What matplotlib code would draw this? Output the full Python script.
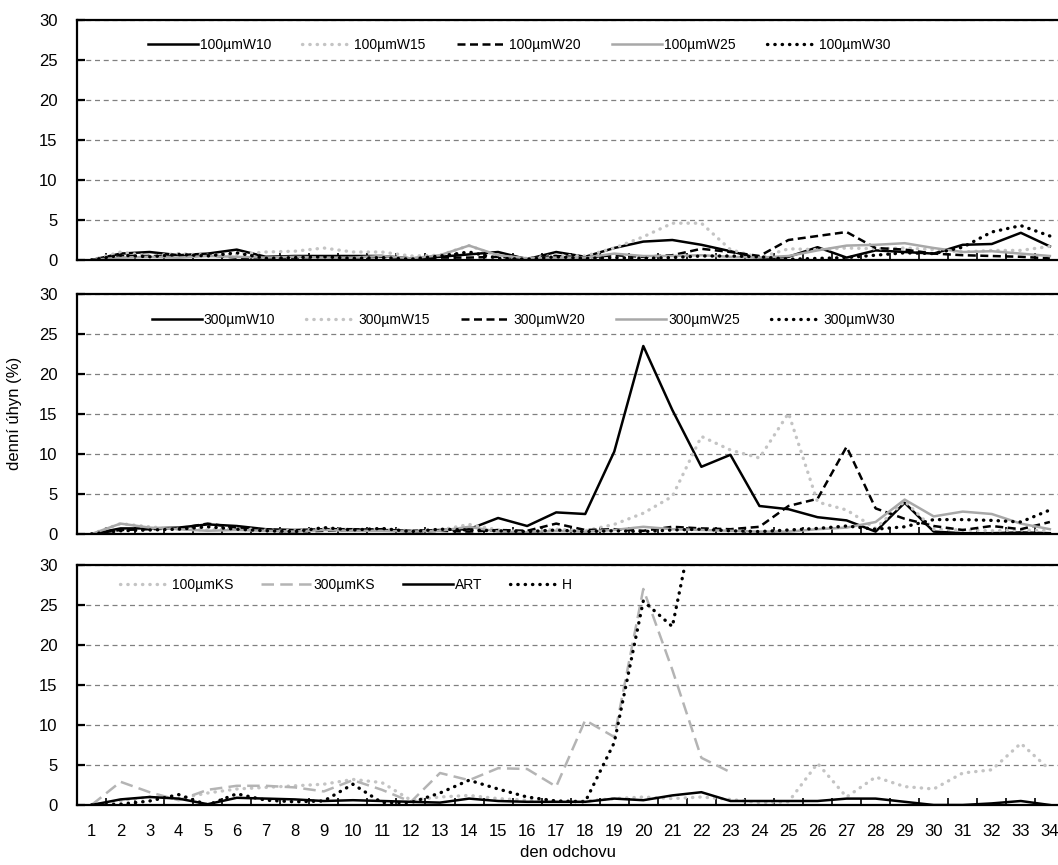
import numpy as np
import matplotlib
matplotlib.use('Agg')
import matplotlib.pyplot as plt
from matplotlib.ticker import MultipleLocator

plt.rcParams['font.family'] = ['Liberation Sans', 'DejaVu Sans']

days = list(range(1, 35))
nan = np.nan

# 100 um
w10_100 = [0, 0.8, 1.0, 0.6, 0.8, 1.3, 0.4, 0.5, 0.5, 0.5, 0.5, 0.2, 0.4, 0.7, 1.0, 0.1, 1.0, 0.4, 1.5, 2.3, 2.5, 1.9, 1.1, 0.2, 0.4, 1.6, 0.3, 1.2, 1.0, 0.8, 1.9, 2.0, 3.4, 1.7]
w15_100 = [0, 1.0, 0.5, 0.8, 0.6, 0.7, 1.0, 1.1, 1.5, 1.0, 1.0, 0.5, 0.6, 1.8, 0.5, 0.2, 0.6, 0.5, 1.5, 2.9, 4.6, 4.6, 1.3, 0.3, 1.4, 1.3, 1.5, 1.4, 1.5, 1.3, 1.0, 1.2, 1.2, 1.7]
w20_100 = [0, 0.5, 0.5, 0.4, 0.6, 0.3, 0.2, 0.3, 0.4, 0.3, 0.4, 0.2, 0.3, 0.3, 0.4, 0.2, 0.5, 0.3, 0.6, 0.4, 0.6, 1.4, 1.0, 0.5, 2.5, 3.0, 3.5, 1.5, 1.3, 0.8, 0.6, 0.5, 0.4, 0.2]
w25_100 = [0, 0.3, 0.4, 0.3, 0.5, 0.4, 0.3, 0.4, 0.3, 0.3, 0.5, 0.2, 0.6, 1.8, 0.6, 0.2, 0.3, 0.3, 0.8, 0.5, 0.5, 0.6, 0.4, 0.3, 0.5, 1.2, 1.8, 1.9, 2.1, 1.5, 1.0, 1.1, 0.8, 0.5]
w30_100 = [0, 0.6, 0.4, 0.7, 0.5, 0.9, 0.2, 0.3, 0.4, 0.2, 0.3, 0.1, 0.5, 1.0, 0.2, 0.1, 0.4, 0.2, 0.3, 0.2, 0.3, 0.5, 0.5, 0.4, 0.1, 0.2, 0.3, 0.6, 0.9, 0.8, 1.6, 3.5, 4.3, 3.0]

# 300 um
w10_300 = [0, 0.7, 0.7, 0.8, 1.2, 1.0, 0.6, 0.5, 0.6, 0.6, 0.5, 0.4, 0.5, 0.6, 2.0, 1.0, 2.7, 2.5, 10.3, 23.5, 15.5, 8.4, 9.9, 3.5, 3.1, 2.1, 1.7, 0.3, 3.9, 0.3, 0.1, 0.1, 0.2, 0.1]
w15_300 = [0, 1.3, 0.9, 0.6, 0.5, 0.7, 0.5, 0.4, 0.7, 0.5, 0.6, 0.4, 0.5, 1.2, 0.5, 0.3, 0.6, 0.4, 1.2, 2.6, 4.7, 12.2, 10.5, 9.5, 15.1, 4.0, 3.0, 0.7, 4.1, 0.6, 0.5, 0.4, 0.5, 0.4]
w20_300 = [0, 0.5, 0.6, 0.7, 1.3, 0.8, 0.5, 0.3, 0.4, 0.5, 0.6, 0.3, 0.4, 0.3, 0.5, 0.4, 1.3, 0.5, 0.6, 0.4, 0.9, 0.7, 0.6, 0.9, 3.5, 4.4, 10.9, 3.2, 1.9, 1.0, 0.5, 1.0, 0.6, 1.5]
w25_300 = [0, 1.3, 0.8, 0.6, 0.4, 0.5, 0.4, 0.3, 0.5, 0.4, 0.4, 0.3, 0.4, 0.9, 0.3, 0.2, 0.4, 0.3, 0.5, 0.9, 0.6, 0.5, 0.4, 0.3, 0.3, 0.6, 0.8, 1.5, 4.3, 2.2, 2.8, 2.5, 1.3, 0.6]
w30_300 = [0, 0.4, 0.5, 0.6, 0.9, 0.6, 0.4, 0.3, 0.8, 0.5, 0.7, 0.3, 0.6, 0.5, 0.4, 0.3, 0.5, 0.3, 0.4, 0.3, 0.5, 0.6, 0.4, 0.3, 0.5, 0.7, 1.0, 0.6, 0.9, 1.8, 1.8, 1.7, 1.5, 3.0]

# controls
ks_100 = [0, 0.5, 1.0, 0.8, 1.5, 2.0, 2.2, 2.4, 2.6, 3.2, 2.8, 0.6, 1.0, 1.2, 0.8, 0.6, 0.5, 0.5, 0.8, 1.0, 0.8, 1.0, 0.7, 0.3, 0.4, 5.2, 1.0, 3.5, 2.3, 2.0, 4.0, 4.4, 7.7, 4.4]
ks_300 = [0, 2.9, 1.6, 0.6, 1.9, 2.4, 2.4, 2.2, 1.7, 3.1, 1.9, 0.4, 4.0, 3.1, 4.6, 4.5, 2.3, 10.6, 8.5, 27.0, 16.9, 5.9, 4.1] + [nan] * 11
art = [0, 0.7, 1.0, 0.8, 0.1, 0.9, 0.8, 0.7, 0.5, 0.6, 0.5, 0.4, 0.3, 0.8, 0.5, 0.4, 0.4, 0.4, 0.8, 0.6, 1.2, 1.6, 0.5, 0.5, 0.5, 0.5, 0.8, 0.8, 0.4, 0.0, 0.0, 0.2, 0.5, 0.0]
h = [0, 0.1, 0.5, 1.3, 0.0, 1.4, 0.6, 0.4, 0.5, 2.6, 0.3, 0.3, 1.5, 3.1, 2.0, 1.0, 0.5, 0.4, 7.8, 25.5, 22.3, 40.0] + [nan] * 12

solid_k = dict(color='black', lw=1.8, ls='-')
dot_lg = dict(color='#c4c4c4', lw=2.4, ls=(0, (0.1, 2.1)), dash_capstyle='round')
dash_k = dict(color='black', lw=1.8, ls=(0, (3.2, 1.8)))
solid_g = dict(color='#a8a8a8', lw=1.8, ls='-')
dot_k = dict(color='black', lw=2.4, ls=(0, (0.1, 2.1)), dash_capstyle='round')
dash_g = dict(color='#b4b4b4', lw=1.8, ls=(0, (5, 2.5)))

panels = [
    [('100µmW10', w10_100, solid_k), ('100µmW15', w15_100, dot_lg), ('100µmW20', w20_100, dash_k),
     ('100µmW25', w25_100, solid_g), ('100µmW30', w30_100, dot_k)],
    [('300µmW10', w10_300, solid_k), ('300µmW15', w15_300, dot_lg), ('300µmW20', w20_300, dash_k),
     ('300µmW25', w25_300, solid_g), ('300µmW30', w30_300, dot_k)],
    [('100µmKS', ks_100, dot_lg), ('300µmKS', ks_300, dash_g), ('ART', art, solid_k), ('H', h, dot_k)],
]

fig = plt.figure(figsize=(10.58, 8.65), dpi=100)
W, H = 1058.0, 865.0
tops = [20, 294, 565]
legend_x = [0.072, 0.076, 0.044]
legend_y = [0.896, 0.892, 0.917]
col_space = [2.25, 2.25, 2.0]
axes = []
for i, series in enumerate(panels):
    top = tops[i]
    ax = fig.add_axes([77 / W, 1 - (top + 240) / H, 1 - 77 / W, 240 / H])
    for label, vals, st in series:
        ax.plot(days, vals, label=label, **st)
    ax.set_xlim(0.5, 34.28)
    ax.set_ylim(0, 30)
    ax.yaxis.set_major_locator(MultipleLocator(5))
    ax.set_xticks(days)
    ax.xaxis.set_minor_locator(MultipleLocator(1, offset=0.5))
    ax.grid(axis='y', color='#808080', ls=(0, (4, 3)), lw=0.9)
    ax.spines['right'].set_visible(False)
    for s in ['left', 'bottom', 'top']:
        ax.spines[s].set_linewidth(1.6)
    ax.tick_params(axis='y', direction='in', length=6, width=1.6, labelsize=12, pad=14)
    ax.tick_params(axis='x', which='major', length=0, labelsize=12, pad=14)
    ax.tick_params(axis='x', which='minor', direction='in', length=5, width=1.2)
    if i < 2:
        ax.tick_params(axis='x', labelbottom=False)
    ax.legend(loc='center left', bbox_to_anchor=(legend_x[i], legend_y[i]), ncol=len(series), frameon=False,
              fontsize=10, handlelength=3.6, handletextpad=0.15, columnspacing=col_space[i],
              borderpad=0, borderaxespad=0)
    axes.append(ax)

axes[2].set_xlabel('den odchovu', fontsize=12, labelpad=4)
fig.text(15 / W, 1 - 413 / H, 'denní úhyn (%)', rotation=90, ha='center', va='center', fontsize=12)

plt.savefig('out.png', dpi=100)
